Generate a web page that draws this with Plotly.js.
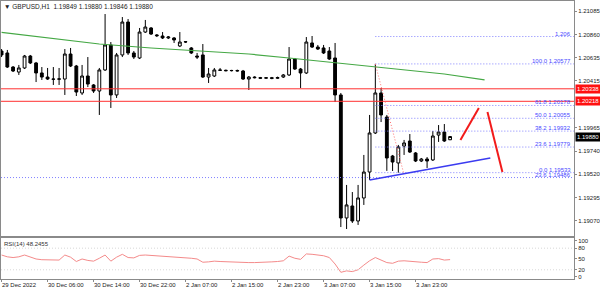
<!DOCTYPE html>
<html><head><meta charset="utf-8">
<script src="https://cdn.plot.ly/plotly-3.0.1.min.js"></script>
<style>html,body{margin:0;padding:0;background:#fff}#chart{width:600px;height:290px}</style>
</head><body><div id="chart"></div>
<script>
// ---- data (GBPUSD H1) ----
const openP = [1.20701,1.20682,1.20547,1.20499,1.20538,1.20653,1.20586,1.20490,1.20451,1.20432,
1.20430,1.20432,1.20672,1.20557,1.20298,1.20461,1.20375,1.20317,1.20519,1.20759,
1.20279,1.20663,1.20979,1.20682,1.20634,1.20883,1.20922,1.20855,1.20845,1.20826,
1.20826,1.20749,1.20787,1.20730,1.20653,1.20663,1.20451,1.20461,1.20519,1.20516,
1.20512,1.20514,1.20509,1.20432,1.20451,1.20445,1.20440,1.20444,1.20439,1.20451,
1.20471,1.20624,1.20528,1.20490,1.20778,1.20739,1.20730,1.20701,1.20634,1.20279,
1.19098,1.19213,1.19069,1.19290,1.19539,1.19914,1.20298,1.20067,1.19693,1.19626,
1.19789,1.19837,1.19722,1.19645,1.19664,1.19655,1.19894,1.19923,1.19849];
const highP = [1.20720,1.20711,1.20557,1.20567,1.20663,1.20663,1.20596,1.20547,1.20538,1.20547,
1.20538,1.20720,1.20730,1.20567,1.20567,1.20643,1.20384,1.20538,1.21056,1.20787,
1.20682,1.21027,1.21008,1.20701,1.20922,1.20999,1.20931,1.20864,1.20883,1.20845,
1.20835,1.20883,1.20797,1.20739,1.20682,1.20768,1.20538,1.20538,1.20538,1.20522,
1.20520,1.20522,1.20519,1.20461,1.20458,1.20452,1.20450,1.20452,1.20455,1.20480,
1.20739,1.20634,1.20538,1.20835,1.20845,1.20759,1.20759,1.20739,1.20778,1.20298,
1.19415,1.19347,1.19415,1.19703,1.20087,1.20577,1.20346,1.20087,1.19703,1.19799,
1.19847,1.19904,1.19731,1.19674,1.19683,1.19933,1.19990,1.20000,1.19880];
const lowP = [1.20643,1.20538,1.20499,1.20471,1.20528,1.20576,1.20403,1.20423,1.20423,1.20375,
1.20375,1.20279,1.20547,1.20269,1.20279,1.20355,1.20298,1.20087,1.20509,1.20154,
1.20250,1.20643,1.20663,1.20624,1.20624,1.20874,1.20855,1.20835,1.20816,1.20816,
1.20778,1.20739,1.20778,1.20672,1.20624,1.20442,1.20394,1.20451,1.20509,1.20506,
1.20505,1.20503,1.20423,1.20327,1.20438,1.20433,1.20432,1.20430,1.20432,1.20442,
1.20461,1.20519,1.20346,1.20480,1.20730,1.20711,1.20672,1.20615,1.20211,1.19011,
1.18992,1.19050,1.19031,1.19223,1.19463,1.19904,1.20019,1.19550,1.19549,1.19533,
1.19703,1.19722,1.19635,1.19635,1.19578,1.19645,1.19828,1.19828,1.19846];
const closeP = [1.20663,1.20547,1.20509,1.20538,1.20653,1.20586,1.20490,1.20451,1.20432,1.20430,
1.20433,1.20672,1.20557,1.20307,1.20461,1.20384,1.20317,1.20519,1.20759,1.20279,
1.20663,1.20979,1.20682,1.20643,1.20883,1.20931,1.20864,1.20848,1.20826,1.20835,
1.20807,1.20787,1.20790,1.20682,1.20643,1.20451,1.20480,1.20519,1.20516,1.20512,
1.20514,1.20510,1.20432,1.20451,1.20445,1.20440,1.20444,1.20439,1.20446,1.20471,
1.20624,1.20528,1.20490,1.20787,1.20739,1.20720,1.20682,1.20624,1.20279,1.19098,
1.19223,1.19069,1.19290,1.19539,1.19914,1.20298,1.20087,1.19674,1.19635,1.19780,
1.19818,1.19731,1.19645,1.19664,1.19645,1.19885,1.19923,1.19837,1.19880];
const maBars = [0,10,17,26,35,43,50,57,64,70,77,84];
const maVals = [1.20879,1.20816,1.20768,1.20730,1.20701,1.20672,1.20634,1.20595,1.20557,1.20523,1.20480,1.20423];
const rsiVals = [61,56,54,56,61,56,50,48,47,47,47,61,55,43,50,46,44,52,61,44,
55,63,54,53,60,61,60,58,57,57,56,56,55,52,50,41,42,44,43,42,
42,41,40,40,40,40,41,42,43,45,58,52,49,64,63,61,59,54,36,13,
17,15,20,33,45,54,47,40,38,44,45,43,41,41,40,50,51,47,48.2455];
const timeLabels = ["29 Dec 2022","30 Dec 06:00","30 Dec 14:00","30 Dec 22:00","2 Jan 07:00","2 Jan 15:00","2 Jan 23:00","3 Jan 07:00","3 Jan 15:00","3 Jan 23:00"];
const timeLabelBars = [0,8,16,24,32,40,48,56,64,72];
const priceTicks = [1.21085,1.20860,1.20635,1.20415,1.19965,1.19740,1.19520,1.19295,1.19070];
const rsiTicks = [0,20,50,80,100];
const redLevels = [1.20338,1.20218];
const fibLevels = [1.20840,1.20577,1.20178,1.20055,1.19932,1.19779,1.19533,1.19486];
const fibLabels = ["1.206","100.0 1.20577","61.8 1.20178","50.0 1.20055","38.2 1.19932","23.6 1.19779","0.0 1.19533","23.6 1.19486"];
const fibStartBar = 65;
const lastPrice = 1.19880;
const trendBars = [64,85], trendPrices = [1.19463,1.19674];
const arrow1Bars = [79.8,83.0], arrow1Prices = [1.19847,1.20154];
const arrow2Bars = [84.5,87.1], arrow2Prices = [1.20115,1.19539];
const fibDiagBars = [65,69.9], fibDiagPrices = [1.20577,1.19533];

const idx = openP.map((_, i) => i);
const XR = [-0.1, 99.55];
const F = "Liberation Sans, Arial, sans-serif";

const traces = [
  {type:'candlestick', x: idx, open: openP, high: highP, low: lowP, close: closeP,
   xaxis:'x2', yaxis:'y',
   increasing:{line:{color:'#000', width:1}, fillcolor:'#fff'},
   decreasing:{line:{color:'#000', width:1}, fillcolor:'#000'},
   whiskerwidth:0, hoverinfo:'skip', showlegend:false},
  {type:'scatter', mode:'lines', x: maBars, y: maVals, xaxis:'x2', yaxis:'y',
   line:{color:'#45a845', width:1.2}, hoverinfo:'skip', showlegend:false},
  {type:'scatter', mode:'lines', x: idx, y: rsiVals, xaxis:'x', yaxis:'y2',
   line:{color:'#f48a8a', width:1}, hoverinfo:'skip', showlegend:false}
];

const shapes = [];
redLevels.forEach(v => shapes.push({type:'line', xref:'paper', yref:'y', x0:0, x1:1, y0:v, y1:v, line:{color:'#ff3030', width:1}}));
fibLevels.forEach((v,k) => shapes.push({type:'line', xref:'x2', yref:'y', x0: k===7?XR[0]:fibStartBar, x1:XR[1], y0:v, y1:v, line:{color:'#8080ff', width:1, dash:'1px,2px'}}));
shapes.push({type:'line', xref:'x2', yref:'y', x0:fibDiagBars[0], x1:fibDiagBars[1], y0:fibDiagPrices[0], y1:fibDiagPrices[1], line:{color:'#ff7070', width:1, dash:'1px,2px'}});
shapes.push({type:'line', xref:'x2', yref:'y', x0:trendBars[0], x1:trendBars[1], y0:trendPrices[0], y1:trendPrices[1], line:{color:'#3b3bf0', width:1.6}});
shapes.push({type:'line', xref:'x2', yref:'y', x0:arrow1Bars[0], x1:arrow1Bars[1], y0:arrow1Prices[0], y1:arrow1Prices[1], line:{color:'#f21b1b', width:2}});
shapes.push({type:'line', xref:'x2', yref:'y', x0:arrow2Bars[0], x1:arrow2Bars[1], y0:arrow2Prices[0], y1:arrow2Prices[1], line:{color:'#f21b1b', width:2}});
[20,80].forEach(v => shapes.push({type:'line', xref:'paper', yref:'y2', x0:0, x1:1, y0:v, y1:v, line:{color:'#d8d8d8', width:1, dash:'1px,2px'}}));

const annotations = [];
annotations.push({xref:'paper', yref:'paper', x:0, y:1, xanchor:'left', yanchor:'top', xshift:1, showarrow:false,
  text:'▼ GBPUSD,H1  1.19849 1.19880 1.19846 1.19880', font:{family:F, size:6.5, color:'#222'}});
annotations.push({xref:'paper', yref:'paper', x:0, y:0.1475, xanchor:'left', yanchor:'top', xshift:1, yshift:-1, showarrow:false,
  text:'RSI(14) 48.2455', font:{family:F, size:6, color:'#333'}});
fibLevels.forEach((v,k) => annotations.push({xref:'paper', yref:'y', x:1, y:v, xanchor:'right', yanchor:'bottom', xshift:-1, yshift:-2, showarrow:false,
  text: fibLabels[k], font:{family:F, size:6, color:'#4848ff'}}));
redLevels.forEach(v => annotations.push({xref:'paper', yref:'y', x:1, y:v, xanchor:'left', yanchor:'middle', xshift:1, showarrow:false,
  text: v.toFixed(5), bgcolor:'#ff1010', borderpad:1, font:{family:F, size:6, color:'#fff'}}));
annotations.push({xref:'paper', yref:'y', x:1, y:lastPrice, xanchor:'left', yanchor:'middle', xshift:1, showarrow:false,
  text: lastPrice.toFixed(5), bgcolor:'#000', borderpad:1, font:{family:F, size:6, color:'#fff'}});
timeLabels.forEach((t,k) => annotations.push({xref:'x', yref:'paper', x:timeLabelBars[k], y:0, xanchor:'left', yanchor:'top', yshift:-1, xshift:-2, showarrow:false,
  text:t, font:{family:F, size:6, color:'#222'}}));

const axLine = '#8a8a8a';
const layout = {
  width:600, height:290, paper_bgcolor:'#fff', plot_bgcolor:'#fff',
  margin:{l:1, r:26, t:1, b:11}, showlegend:false, hovermode:false,
  xaxis:{domain:[0,1], anchor:'y2', range:XR, showgrid:false, zeroline:false,
    showline:true, mirror:true, linecolor:axLine, linewidth:1,
    tickvals:timeLabelBars, ticks:'outside', ticklen:2, tickcolor:axLine, showticklabels:false},
  xaxis2:{domain:[0,1], anchor:'y', matches:'x', range:XR, showgrid:false, zeroline:false,
    showline:true, mirror:true, linecolor:axLine, linewidth:1, showticklabels:false, ticks:'',
    rangeslider:{visible:false}},
  yaxis:{domain:[0.1547,1], anchor:'x2', side:'right', range:[1.18925,1.21181], showgrid:false, zeroline:false,
    showline:true, mirror:true, linecolor:axLine, linewidth:1,
    tickvals:priceTicks, ticktext:priceTicks.map(v=>v.toFixed(5)), ticks:'outside', ticklen:2, tickcolor:axLine,
    tickfont:{family:F, size:6, color:'#222'}},
  yaxis2:{domain:[0,0.1475], anchor:'x', side:'right', range:[-5.6,108.3], showgrid:false, zeroline:false,
    showline:true, mirror:true, linecolor:axLine, linewidth:1,
    tickvals:rsiTicks, ticktext:rsiTicks.map(String), ticks:'outside', ticklen:2, tickcolor:axLine,
    tickfont:{family:F, size:6, color:'#222'}},
  shapes:shapes, annotations:annotations
};
Plotly.newPlot('chart', traces, layout, {staticPlot:true, displayModeBar:false});
</script></body></html>
